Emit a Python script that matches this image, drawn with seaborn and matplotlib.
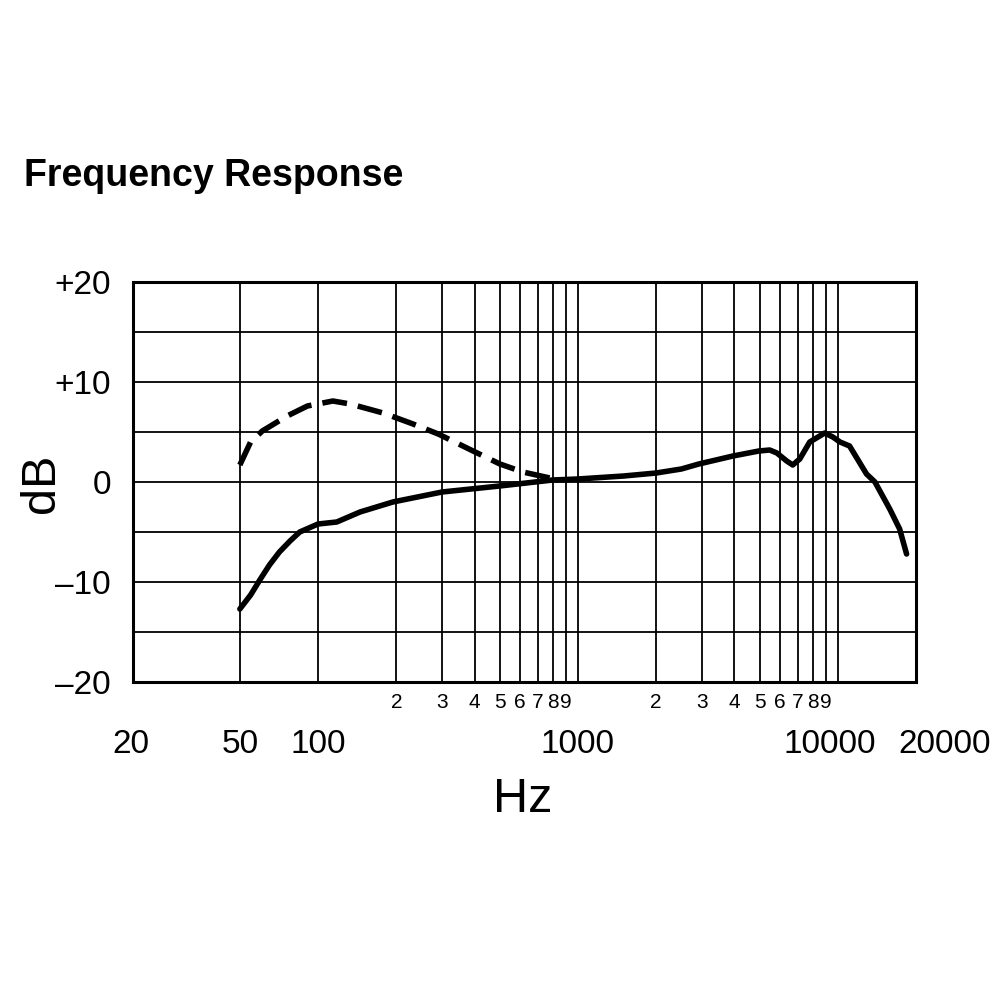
import matplotlib
matplotlib.use("Agg")
import matplotlib.pyplot as plt
import matplotlib.transforms as mtransforms
import seaborn as sns
import pandas as pd

# ---- data ----
solid_hz = [50, 55, 60, 65, 71, 78, 85, 100, 118, 145, 194, 300, 500, 800, 1000, 1500, 2000, 2500,
            2920, 3950, 4970, 5470, 5830, 6360, 6710, 7140, 7800, 8910, 9570, 10200,
            11100, 12900, 13900, 15850, 17300, 18400]
solid_db = [-12.7, -11.3, -9.7, -8.3, -7.0, -5.9, -5.0, -4.2, -4.0, -3.0, -2.0, -1.0, -0.4, 0.2, 0.3, 0.6, 0.9, 1.3,
            1.8, 2.6, 3.1, 3.2, 2.9, 2.1, 1.7, 2.3, 4.0, 4.9, 4.5, 4.0,
            3.6, 0.8, 0.0, -2.7, -4.7, -7.2]

dash_hz = [50, 55, 61, 76, 91, 114, 133, 178, 232, 290, 395, 501, 614, 780]
dash_db = [1.7, 4.0, 5.1, 6.6, 7.6, 8.1, 7.8, 6.9, 5.8, 4.8, 3.1, 1.8, 1.0, 0.4]

grid_hz = [50, 100, 200, 300, 400, 500, 600, 700, 800, 900, 1000,
           2000, 3000, 4000, 5000, 6000, 7000, 8000, 9000, 10000]
grid_db = [-15, -10, -5, 0, 5, 10, 15]

major_ticks = [20, 50, 100, 1000, 10000, 20000]
major_labels = ["20", "50", "100", "1000", "10000", "20000"]
minor_ticks = [200, 300, 400, 500, 600, 700, 800, 900,
               2000, 3000, 4000, 5000, 6000, 7000, 8000, 9000]
minor_labels = ["2", "3", "4", "5", "6", "7", "8", "9"] * 2

y_ticks = [-20, -10, 0, 10, 20]
y_labels = ["\u201320", "\u201310", "0", "+10", "+20"]

solid_df = pd.DataFrame({"Hz": solid_hz, "dB": solid_db})
dash_df = pd.DataFrame({"Hz": dash_hz, "dB": dash_db})

sns.set_style("white")
plt.rcParams["font.family"] = ["Liberation Sans", "DejaVu Sans"]
plt.rcParams["text.color"] = "black"
plt.rcParams["xtick.color"] = "black"
plt.rcParams["ytick.color"] = "black"
plt.rcParams["axes.labelcolor"] = "black"

fig = plt.figure(figsize=(10, 10), dpi=100)
ax = fig.add_axes([0.133, 0.318, 0.783, 0.400])

for g in grid_hz:
    ax.axvline(g, color="black", lw=1.3, zorder=1)
for g in grid_db:
    ax.axhline(g, color="black", lw=1.3, zorder=1)

sns.lineplot(data=solid_df, x="Hz", y="dB", ax=ax, color="black", lw=4.0,
             sort=False, estimator=None, zorder=3)
sns.lineplot(data=dash_df, x="Hz", y="dB", ax=ax, color="black", lw=4.0,
             sort=False, estimator=None, zorder=3)
dline = ax.lines[-1]
dline.set_dashes([4.5, 2.0])
for ln in ax.lines[-2:]:
    ln.set_solid_joinstyle("round")
    ln.set_dash_joinstyle("round")

ax.set_xscale("log")
ax.set_xlim(19.4, 20000)
ax.set_ylim(-20, 20)

ax.set_xticks(major_ticks)
ax.set_xticklabels(major_labels, fontsize=24)
ax.set_xticks(minor_ticks, minor=True)
ax.set_xticklabels(minor_labels, minor=True, fontsize=15)
ax.tick_params(axis="x", which="major", length=0, pad=34, labelcolor="black")
ax.tick_params(axis="x", which="minor", length=0, pad=8, labelcolor="black")
ax.set_yticks(y_ticks)
ax.set_yticklabels(y_labels, fontsize=24)
ax.tick_params(axis="y", length=0, pad=16, labelcolor="black")
ax.grid(False)

# shift some bottom labels like in the reference
offs = {"20": -6, "10000": -8, "20000": 29}
for lab in ax.get_xticklabels():
    t = lab.get_text()
    if t in offs:
        lab.set_transform(lab.get_transform() + mtransforms.Affine2D().translate(offs[t], 0))

for s in ax.spines.values():
    s.set_visible(True)
    s.set_color("black")
    s.set_linewidth(2.2)

ax.set_xlabel("")
ax.set_ylabel("")
fig.text(0.523, 0.2, "Hz", fontsize=35, ha="center", va="center", color="black")
fig.text(0.042, 0.517, "dB", fontsize=35, ha="center", va="center", rotation=90, color="black")
fig.text(0.024, 0.824, "Frequency Response", fontsize=27, fontweight="bold",
         ha="left", va="center", color="black")

fig.savefig("out.png", dpi=100, facecolor="white")
